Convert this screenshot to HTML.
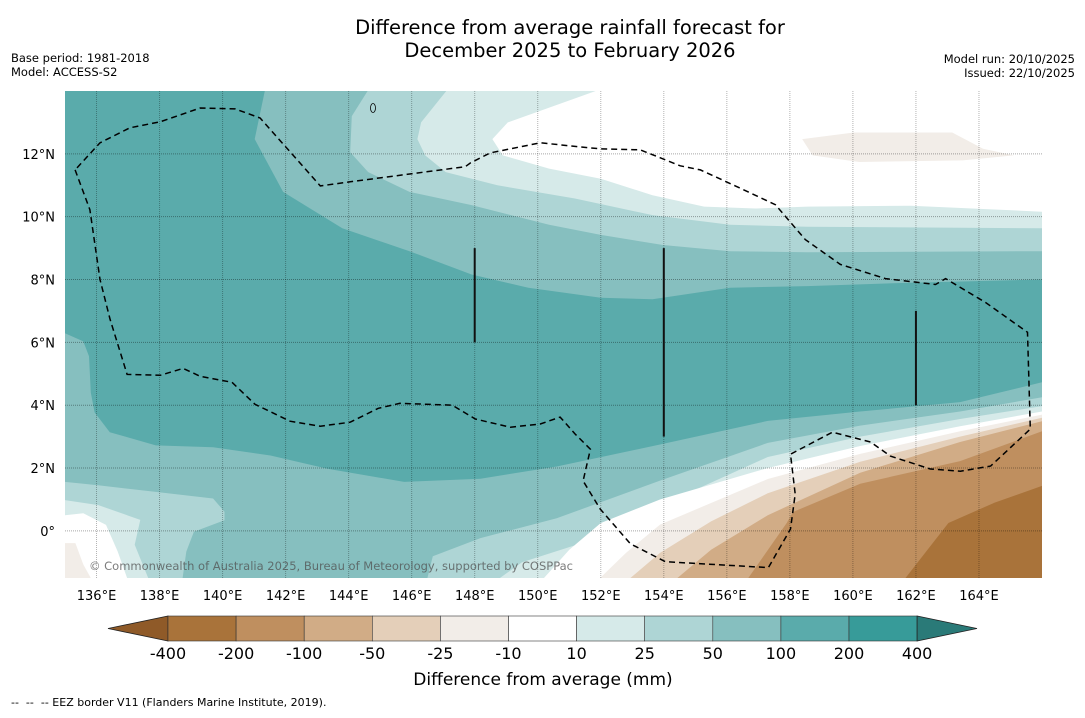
<!DOCTYPE html>
<html><head><meta charset="utf-8"><style>
body{margin:0;background:#fff;width:1085px;height:713px;overflow:hidden;font-family:"Liberation Sans","DejaVu Sans",sans-serif}
svg text{font-family:"DejaVu Sans","Liberation Sans",sans-serif}
</style></head><body>
<svg id="chart" width="1085" height="713" xmlns="http://www.w3.org/2000/svg">
<text x="570" y="34" font-size="19.5" text-anchor="middle">Difference from average rainfall forecast for</text>
<text x="570" y="57" font-size="19.5" text-anchor="middle">December 2025 to February 2026</text>
<text x="11" y="62" font-size="11.5">Base period: 1981-2018</text>
<text x="11" y="76" font-size="11.5">Model: ACCESS-S2</text>
<text x="1075" y="63" font-size="11.5" text-anchor="end">Model run: 20/10/2025</text>
<text x="1075" y="77" font-size="11.5" text-anchor="end">Issued: 22/10/2025</text>
<defs><clipPath id="mapclip"><rect x="65" y="91" width="977" height="487"/></clipPath></defs>
<g id="map" clip-path="url(#mapclip)"></g>
<g id="ticks"></g>
<g id="cbar"></g>
<text x="543" y="685" font-size="17" text-anchor="middle">Difference from average (mm)</text>
<text x="11" y="706" font-size="11" style="white-space:pre" xml:space="preserve">--  --  -- EEZ border V11 (Flanders Marine Institute, 2019).</text>
</svg>
<script>
const NS='http://www.w3.org/2000/svg';
const lonTicks=[136,138,140,142,144,146,148,150,152,154,156,158,160,162,164];
const latTicks=[0,2,4,6,8,10,12];
const cbLabels=['-400','-200','-100','-50','-25','-10','10','25','50','100','200','400'];
const cbColors=['#a9733a','#bf8f5f','#d1ac86','#e4cfb9','#f2ede8','#ffffff','#d6eae9','#aed5d5','#86bfbf','#5aabab','#379b99'];
const extLow='#8f5a28', extHigh='#2a7a78';
const darkTop=[[141.34,14],[141.02,12.47],[141.92,10.79],[143.8,9.63],[145.93,8.9],[147.9,8.16],[149.7,7.74],[152,7.42],[153.64,7.37],[156.1,7.74],[158.56,7.79],[161.84,7.9],[166,8.0]];
const darkBottom=[[135,6.29],[135.58,6.03],[135.76,5.56],[135.82,4.4],[135.94,3.77],[136.42,3.14],[137.88,2.72],[139.7,2.66],[141.52,2.4],[143.33,1.98],[145.76,1.56],[148.18,1.66],[150.6,2.05],[153.88,2.75],[157.3,3.5],[160.23,3.8],[163.4,4.1],[166,4.73]];
const up25=[[144.6,14],[144.1,13.2],[144.05,12.05],[144.62,11.42],[145.93,10.79],[147.9,10.37],[150.36,9.74],[152,9.42],[153.97,9.1],[156.1,8.9],[158.56,8.87],[166,8.9]];
const up10=[[147.1,14],[146.3,13.0],[146.18,12.47],[146.43,11.95],[147.08,11.42],[148.72,11.0],[151.18,10.58],[153.64,10.05],[156.1,9.74],[158.56,9.68],[166,9.63]];
const upWhite=[[151.84,14],[149.05,13.0],[148.56,12.47],[148.89,11.95],[150.36,11.53],[152,11.21],[153.64,10.68],[155.28,10.32],[156.92,10.26],[158.56,10.32],[161.84,10.35],[166,10.16]];
const blobNeg10=[[158.39,12.47],[160.03,12.68],[163.15,12.68],[164.13,12.16],[165.11,11.95],[163.48,11.79],[160.2,11.74],[158.72,11.95]];
const lo25=[[146.5,-1.5],[146.67,-0.81],[148.18,-0.23],[150.6,0.4],[153.88,1.6],[157.3,2.8],[160.23,3.35],[163.4,3.8],[166,4.25]];
const lo10=[[148.8,-1.5],[149.5,-1.0],[152.3,-0.1],[153.88,0.8],[157.3,2.35],[160.23,3.0],[163.4,3.56],[166,3.97]];
const loWhite=[[150.2,-1.5],[151.0,-0.6],[152.0,0.25],[153.88,1.0],[157.3,2.0],[160.23,2.7],[163.4,3.33],[166,3.8]];
const loNeg25=[[151.98,-1.5],[152.8,-0.7],[153.88,0.2],[157.3,1.65],[160.23,2.45],[163.4,3.17],[166,3.7]];
const loNeg50=[[152.94,-1.5],[153.88,-0.7],[155.5,0.3],[157.3,1.2],[160.23,2.2],[163.4,3.0],[166,3.6]];
const loNeg100=[[154.43,-1.5],[155.5,-0.6],[157.3,0.5],[160.23,1.85],[163.4,2.83],[166,3.49]];
const loNeg200=[[156.68,-1.5],[157.9,0.25],[158.1,0.6],[160.23,1.5],[163.4,2.22],[166,3.17]];
const loNeg400=[[161.67,-1.5],[163.03,0.25],[164.5,0.9],[166,1.43]];
const leftB25=[[135,1.56],[136.05,1.45],[137.88,1.24],[139.7,1.03],[140.06,0.61],[140.06,0.34],[139.09,-0.03],[138.85,-0.66],[138.73,-1.5]];
const leftB10=[[135,0.98],[136.06,0.82],[137.39,0.35],[137.21,-0.44],[137.64,-1.5]];
const leftWhite=[[135,0.5],[135.58,0.56],[136.3,0.19],[136.67,-0.65],[136.97,-1.5]];
const leftNeg10=[[135,-0.39],[135.33,-0.39],[135.58,-1.07],[135.82,-1.5]];
const eez=[[135.32,11.49],[135.79,10.22],[136.11,8.0],[136.43,6.73],[136.97,4.98],[138.02,4.95],[138.75,5.17],[139.29,4.92],[140.3,4.73],[141.03,4.03],[142.14,3.49],[143.1,3.33],[144.05,3.46],[144.94,3.9],[145.63,4.06],[147.29,4.0],[148.02,3.56],[149.13,3.3],[150.08,3.4],[150.71,3.62],[151.19,3.08],[151.67,2.6],[151.44,1.59],[151.98,0.7],[152.94,-0.41],[154.05,-0.98],[157.32,-1.17],[158.02,0.06],[158.17,1.17],[158.02,2.44],[159.35,3.14],[160.56,2.83],[161.19,2.38],[162.46,1.97],[163.41,1.9],[164.37,2.06],[165.63,3.24],[165.54,6.32],[164.21,7.27],[162.94,8.03],[162.62,7.84],[161.03,8.03],[159.6,8.48],[158.49,9.27],[157.54,10.38],[156.27,10.98],[155.16,11.49],[154.52,11.62],[153.25,12.13],[151.98,12.16],[151.35,12.22],[150.08,12.35],[148.49,12.03],[147.86,11.71],[147.7,11.59],[144.05,11.11],[143.1,10.98],[141.19,13.14],[140.4,13.43],[139.29,13.46],[138.02,13.02],[137.06,12.83],[136.11,12.35],[135.32,11.49]];
const bars=[[148,9,6],[154,9,3],[162,7,4]];
const lon0=135,lon1=166,lat0=-1.5,lat1=14,X0=65,X1=1042,Y0=578,Y1=91;
const px=lon=>X0+(lon-lon0)/(lon1-lon0)*(X1-X0);
const py=lat=>Y0-(lat-lat0)/(lat1-lat0)*(Y0-Y1);
const pts=a=>a.map(p=>px(p[0]).toFixed(1)+','+py(p[1]).toFixed(1)).join(' ');
const map=document.getElementById('map');
function poly(a,fill,name){const e=document.createElementNS(NS,'polygon');e.setAttribute('points',pts(a));e.setAttribute('fill',fill);


map.appendChild(e);}
poly([[135,14],[166,14],[166,-1.5],[135,-1.5]],cbColors[8],'band-50-100');
poly([[135,14]].concat(darkTop,[[166,4.73]],darkBottom.slice().reverse()),cbColors[9],'band-100-200');
poly(up25.concat([[166,14]]),cbColors[7],'band-25-50-north');
poly(up10.concat([[166,14]]),cbColors[6],'band-10-25-north');
poly(upWhite.concat([[166,14]]),cbColors[5],'band-neutral-north');
poly(blobNeg10,cbColors[4],'band-neg10-neg25-north');
const lows=[[lo25,7],[lo10,6],[loWhite,5],[loNeg25,4],[loNeg50,3],[loNeg100,2],[loNeg200,1],[loNeg400,0],[leftB25,7],[leftB10,6],[leftWhite,5],[leftNeg10,4]];
lows.forEach((l,i)=>{const last=l[0][l[0].length-1];
 let a=l[0].slice(); if(last[0]>=166){a.push([166,-1.5]);} else {a.push([135,-1.5]);}
 poly(a,cbColors[l[1]],'contour-band-'+i);});
function line(x1,y1,x2,y2,st,w,dash,name){const e=document.createElementNS(NS,'line');e.setAttribute('x1',x1);e.setAttribute('y1',y1);e.setAttribute('x2',x2);e.setAttribute('y2',y2);e.setAttribute('stroke',st);e.setAttribute('stroke-width',w);if(dash)e.setAttribute('stroke-dasharray',dash);


map.appendChild(e);}
lonTicks.forEach(l=>line(px(l),Y1,px(l),Y0,'rgba(0,0,0,0.3)',1,'1,1','gridline-lon'));
latTicks.forEach(l=>line(X0,py(l),X1,py(l),'rgba(0,0,0,0.35)',1,'1,1','gridline-lat'));
bars.forEach(b=>line(px(b[0]),py(b[1]),px(b[0]),py(b[2]),'#111',2,null,'boundary-segment'));
const isl=document.createElementNS(NS,'ellipse');isl.setAttribute('cx',373);isl.setAttribute('cy',108);isl.setAttribute('rx',2.5);isl.setAttribute('ry',4.5);isl.setAttribute('fill','none');isl.setAttribute('stroke','#000');isl.setAttribute('stroke-width','0.8');


map.appendChild(isl);
const ez=document.createElementNS(NS,'polyline');ez.setAttribute('points',pts(eez));ez.setAttribute('fill','none');ez.setAttribute('stroke','#000');ez.setAttribute('stroke-width','1.5');ez.setAttribute('stroke-dasharray','6,4');


map.appendChild(ez);
const cp=document.createElementNS(NS,'text');cp.setAttribute('x',89);cp.setAttribute('y',570);cp.setAttribute('font-size','11.5');cp.setAttribute('fill','rgba(80,80,80,0.75)');cp.setAttribute('textLength','484');cp.textContent='© Commonwealth of Australia 2025, Bureau of Meteorology, supported by COSPPac';


map.appendChild(cp);
const tk=document.getElementById('ticks');
function txt(par,x,y,s,size,anchor,name){const e=document.createElementNS(NS,'text');e.setAttribute('x',x);e.setAttribute('y',y);e.setAttribute('font-size',size);e.setAttribute('text-anchor',anchor);e.textContent=s;


par.appendChild(e);}
lonTicks.forEach(l=>txt(tk,px(l),600,l+'°E',13,'middle','lon-tick-label'));
latTicks.forEach(l=>txt(tk,55,py(l)+5,l===0?'0°':l+'°N',13,'end','lat-tick-label'));
const cb=document.getElementById('cbar');
const cx0=168,cw=68.1,cy=616,ch=25;
function cpoly(p,fill,name){const e=document.createElementNS(NS,'polygon');e.setAttribute('points',p);e.setAttribute('fill',fill);e.setAttribute('stroke','#222');e.setAttribute('stroke-width','0.8');


cb.appendChild(e);}
cpoly(`${cx0},${cy} ${cx0},${cy+ch} 108,${cy+ch/2}`,extLow,'colorbar-extend-low');
cbColors.forEach((c,i)=>{const e=document.createElementNS(NS,'rect');e.setAttribute('x',cx0+i*cw);e.setAttribute('y',cy);e.setAttribute('width',cw);e.setAttribute('height',ch);e.setAttribute('fill',c);e.setAttribute('stroke','#333');e.setAttribute('stroke-width','0.6');


cb.appendChild(e);});
const cx1=cx0+cbColors.length*cw;
cpoly(`${cx1},${cy} ${cx1},${cy+ch} 977,${cy+ch/2}`,extHigh,'colorbar-extend-high');
cbLabels.forEach((s,i)=>txt(cb,cx0+i*cw,659,s,16,'middle','colorbar-label'));
</script>
</body></html>
